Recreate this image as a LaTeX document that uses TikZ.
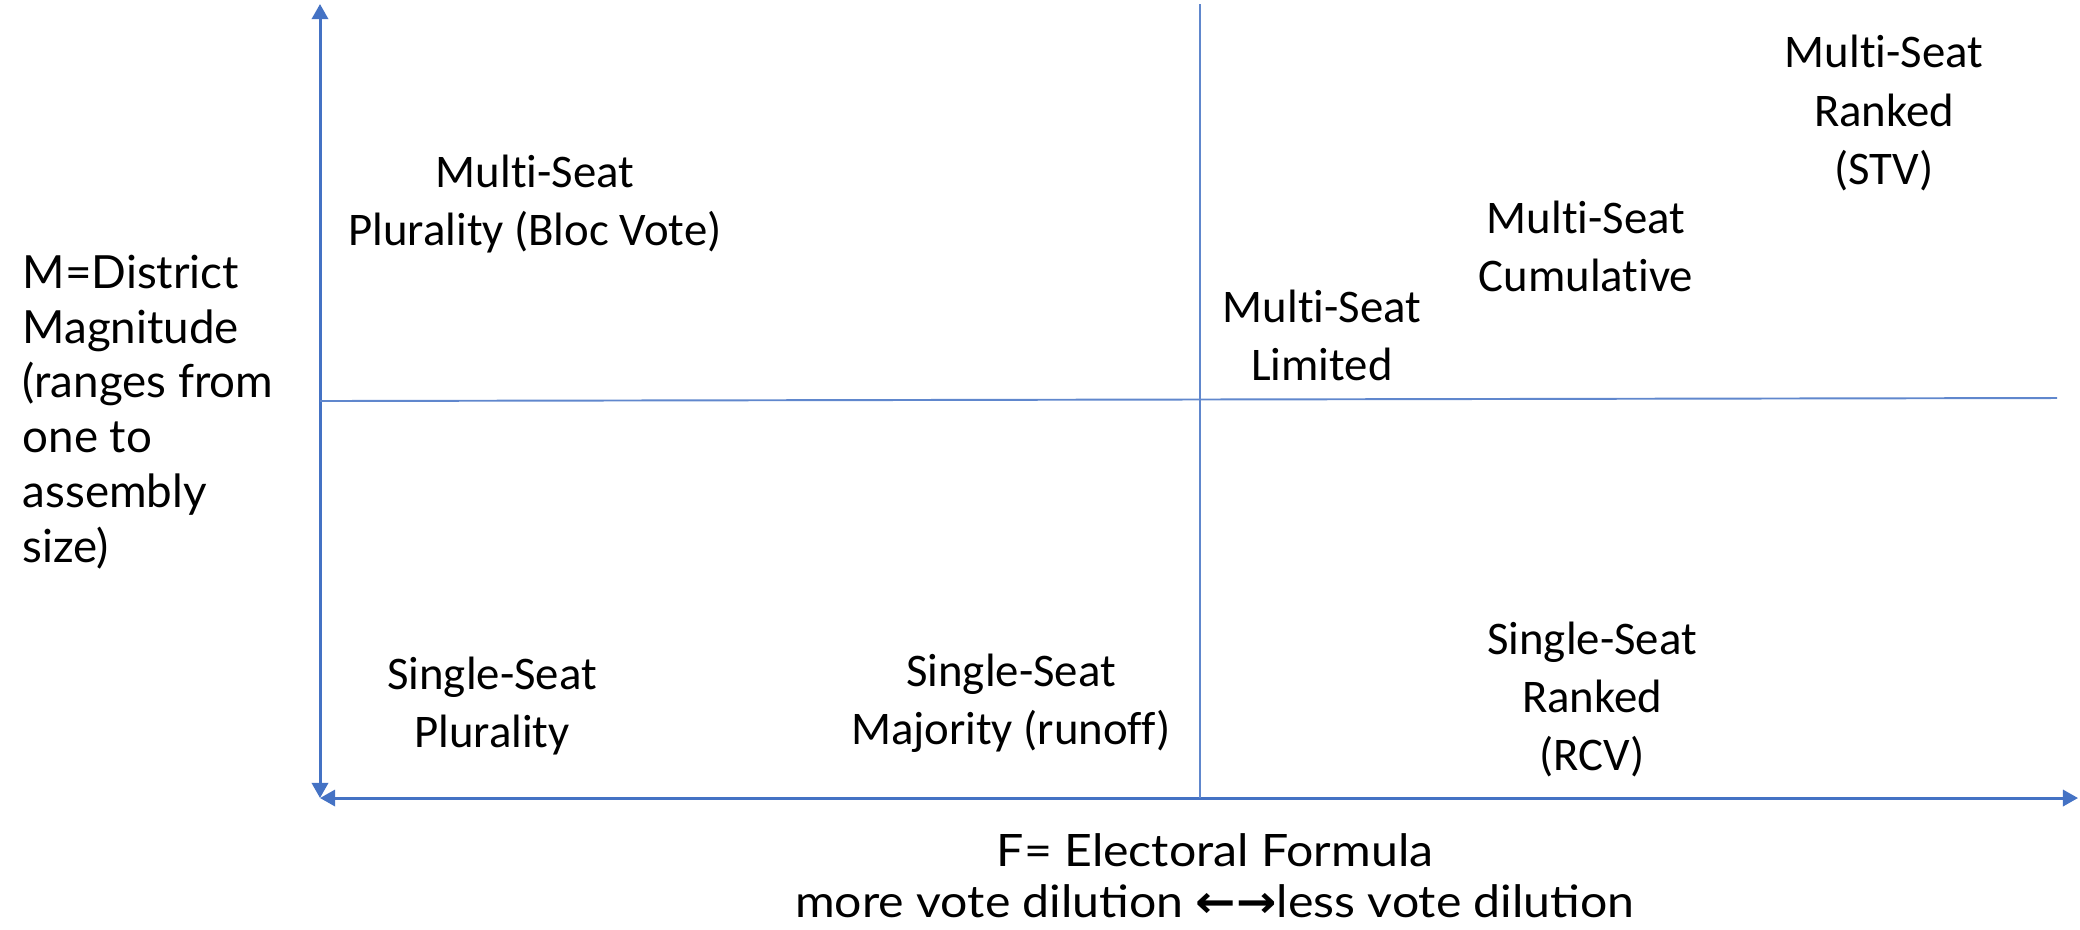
\documentclass[tikz,border=0pt]{standalone}
\usepackage{fontspec}
\setmainfont[Ligatures=NoCommon]{Carlito}
\newfontfamily\axisfont{Lato}
\newfontfamily\formulafont[FakeStretch=1.08]{Lato}
\newfontfamily\arrowfont[FakeStretch=1.08]{DejaVu Sans}
\usepackage{tikz}
\usetikzlibrary{arrows.meta,positioning}
\definecolor{axisblue}{HTML}{4472C4}
\tikzset{
  axis/.style={ draw=axisblue, line width=0.85pt, {Triangle[length=4.3pt,width=4.6pt]}-{Triangle[length=4.3pt,width=4.6pt]} }
}
\tikzset{
  divider/.style={ draw=axisblue!85, line width=0.55pt }
}
\tikzset{
  quad/.style={ align=center, inner sep=0pt, font=\fontsize{13.3}{16.5}\selectfont }
}
\tikzset{
  axislabel/.style={ inner sep=0pt }
}

\begin{document}
\begin{tikzpicture}[x=0.01cm, y=-0.01cm]
      \useasboundingbox (0,0) rectangle (2080,929);
      % axes
      \coordinate (O) at (320,798);
      \coordinate (Mtop) at (320,4);
      \coordinate (Fend) at (2078,798);
      \draw[axis] (O) -- (Mtop);
      \draw[axis] (O) -- (Fend);

      % quadrant dividers
      \coordinate (midtop) at (1200,4);
      \coordinate (midbot) at (1200,798);
      \coordinate (hleft) at (320,401);
      \coordinate (hright) at (2057,398);
      \draw[divider] (midtop) -- (midbot);
      \draw[divider] (hleft) -- (hright);

      % upper half
      \node[quad] (blocvote) at (535,204) {Multi-Seat\\Plurality (Bloc Vote)};
      \node[quad] (limited) at (1322,335) {Multi-Seat\\Limited};
      \node[quad] (cumulative) at (1586,246) {Multi-Seat\\Cumulative};
      \node[quad] (stv) at (1884,113) {Multi-Seat\\Ranked\\(STV)};

      % lower half
      \node[quad] (plurality) at (492,706) {Single-Seat\\Plurality};
      \node[quad] (majority) at (1011,703) {Single-Seat\\Majority (runoff)};
      \node[quad] (rcv) at (1592,699) {Single-Seat\\Ranked\\(RCV)};

      % axis labels
      \node[axislabel, anchor=west, align=left, font=\axisfont\fontsize{13}{15.6}\selectfont] (Mlabel) at (22,412)
        {M=District\\Magnitude\\(ranges from\\one to\\assembly\\size)};
      \node[axislabel, align=center, font=\formulafont\fontsize{12.7}{14.5}\selectfont] (Flabel) at (1215,876)
        {F= Electoral Formula\\more vote dilution {\arrowfont\bfseries ←→}less vote dilution};
    \end{tikzpicture}
\end{document}
